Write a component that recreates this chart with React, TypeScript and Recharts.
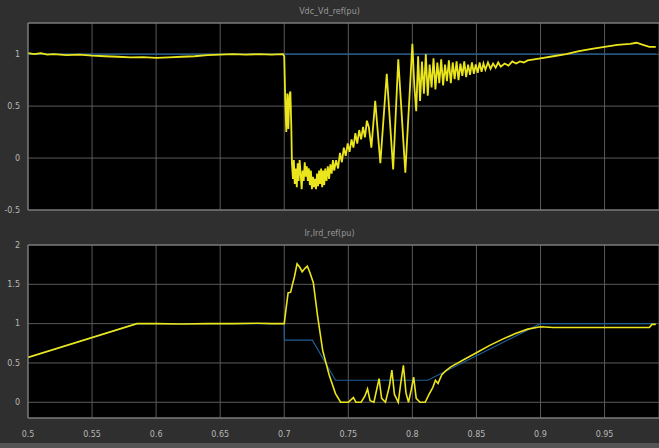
import { CartesianGrid, Line, LineChart, ReferenceLine, XAxis, YAxis } from "recharts";

// shared time axis (s)
const timeTicks = [0.5, 0.55, 0.6, 0.65, 0.7, 0.75, 0.8, 0.85, 0.9, 0.95];
const timeLabels = ["0.5", "0.55", "0.6", "0.65", "0.7", "0.75", "0.8", "0.85", "0.9", "0.95"];

// upper scope: Vdc_Vd_ref(pu)
const vdcTicks = [-0.5, 0, 0.5, 1];
const vdcRefTime = [0.5, 0.99];
const vdcRefValue = [1, 1];
const vdcTime = [
  0.5, 0.505, 0.51, 0.515, 0.52, 0.53, 0.54, 0.55, 0.56, 0.57, 0.58, 0.59, 0.6, 0.61, 0.62, 0.63,
  0.64, 0.65, 0.66, 0.67, 0.68, 0.69, 0.699,
  0.7, 0.7008, 0.7016, 0.7024, 0.7032, 0.704, 0.7048, 0.7055, 0.706, 0.7068, 0.7075, 0.7082,
  0.709, 0.7098, 0.7105, 0.7112, 0.712, 0.7128, 0.7136, 0.7144, 0.7152, 0.716, 0.7168, 0.7176,
  0.7184, 0.7192, 0.72, 0.7208, 0.7216, 0.7224, 0.7232, 0.724, 0.7248, 0.7256, 0.7264, 0.7272,
  0.728, 0.7288, 0.7296, 0.7304, 0.7312, 0.732, 0.733, 0.734, 0.735, 0.736, 0.737, 0.738,
  0.739, 0.7405, 0.742, 0.7435, 0.745, 0.7465, 0.748, 0.7495, 0.751, 0.7525, 0.754, 0.7555,
  0.757, 0.7585, 0.76, 0.7615, 0.763, 0.7645, 0.766, 0.768,
  0.771, 0.775, 0.78, 0.785, 0.789, 0.7945, 0.8,
  0.8015, 0.803, 0.8045, 0.806, 0.8075, 0.809, 0.8105, 0.812, 0.8135, 0.815,
  0.8165, 0.818, 0.8195, 0.821, 0.8225, 0.824, 0.8255, 0.827, 0.8285, 0.83,
  0.8315, 0.833, 0.8345, 0.836, 0.8375, 0.839, 0.8405, 0.842, 0.8435, 0.845,
  0.8465, 0.848, 0.8495, 0.851, 0.8525, 0.854, 0.8555, 0.857, 0.859, 0.861,
  0.863, 0.865, 0.867, 0.869, 0.872, 0.875, 0.878, 0.881, 0.884, 0.887,
  0.89, 0.895, 0.9, 0.91, 0.92, 0.93, 0.94, 0.95, 0.96, 0.97, 0.975, 0.98, 0.985, 0.99,
];
const vdcValue = [
  1.01, 1.0, 1.01, 0.995, 1.0, 0.99, 0.995, 0.985, 0.98, 0.975, 0.97, 0.972, 0.965, 0.97, 0.975, 0.98,
  0.99, 0.995, 1.0, 0.995, 1.0, 0.995, 1.0,
  0.98, 0.55, 0.25, 0.62, 0.28, 0.6, 0.64, 0.3, -0.05, -0.2, -0.02, -0.25,
  -0.1, -0.28, -0.05, -0.22, -0.02, -0.15, -0.3, -0.12, -0.22, -0.04, -0.18, -0.08,
  -0.22, -0.1, -0.26, -0.12, -0.3, -0.18, -0.28, -0.2, -0.3, -0.15, -0.27, -0.12,
  -0.25, -0.1, -0.28, -0.12, -0.26, -0.1, -0.22, -0.08, -0.2, -0.06, -0.15, -0.02,
  -0.12, -0.02, -0.1, 0.05, -0.04, 0.1, 0.02, 0.14, 0.06, 0.18, 0.1, 0.24,
  0.14, 0.27, 0.18, 0.3, 0.2, 0.36, 0.3, 0.1,
  0.55, -0.05, 0.81, -0.11, 0.95, -0.14, 1.1,
  0.7, 0.45, 0.98, 0.55, 0.93, 0.62, 1.0, 0.6, 0.9, 0.68,
  0.96, 0.66, 0.92, 0.72, 0.95, 0.7, 0.9, 0.74, 0.94, 0.72,
  0.92, 0.76, 0.93, 0.75, 0.91, 0.79, 0.93, 0.78, 0.9, 0.8,
  0.92, 0.81, 0.9, 0.82, 0.92, 0.83, 0.91, 0.85, 0.92, 0.86,
  0.91, 0.87, 0.92, 0.88, 0.91, 0.89, 0.93, 0.91, 0.93, 0.92,
  0.94, 0.95, 0.96, 0.98, 1.0, 1.03, 1.05, 1.07, 1.09, 1.1, 1.11, 1.09, 1.07, 1.07,
];

// lower scope: Ir,Ird_ref(pu)
const irTicks = [0, 0.5, 1, 1.5, 2];
const irRefTime = [0.5, 0.585, 0.7, 0.7001, 0.722, 0.74, 0.812, 0.9, 0.99];
const irRefValue = [0.57, 1.0, 1.0, 0.79, 0.79, 0.28, 0.28, 1.0, 1.0];
const irTime = [
  0.5, 0.585, 0.6, 0.62, 0.64, 0.66, 0.68, 0.69, 0.7,
  0.7015, 0.703, 0.705, 0.706, 0.708, 0.71, 0.712, 0.714, 0.716, 0.718, 0.72, 0.7227, 0.726,
  0.73, 0.735, 0.74, 0.744, 0.75, 0.752, 0.754, 0.756, 0.76, 0.763, 0.765, 0.767, 0.77,
  0.772, 0.774, 0.776, 0.779, 0.782, 0.784, 0.786, 0.789, 0.791, 0.793, 0.795, 0.797, 0.799,
  0.801, 0.803, 0.806, 0.81, 0.813, 0.816, 0.818, 0.82, 0.823, 0.826, 0.83, 0.84, 0.85,
  0.86, 0.87, 0.88, 0.89, 0.9, 0.91, 0.95, 0.985, 0.987, 0.99,
];
const irValue = [
  0.57, 1.0, 1.0, 0.995, 1.0, 1.0, 1.005, 1.0, 1.0,
  1.2, 1.39, 1.4, 1.47, 1.6, 1.76, 1.72, 1.66, 1.7, 1.73, 1.65, 1.52, 1.1,
  0.66, 0.35, 0.11, 0.0, 0.0, 0.03, 0.06, 0.0, 0.0, 0.08, 0.17, 0.02, 0.0,
  0.15, 0.3, 0.05, 0.0, 0.2, 0.41, 0.1, 0.0, 0.25, 0.47, 0.12, 0.0, 0.15,
  0.32, 0.05, 0.0, 0.0, 0.1, 0.19, 0.28, 0.24, 0.35, 0.4, 0.45, 0.54, 0.63,
  0.72, 0.8, 0.87, 0.93, 0.96, 0.95, 0.95, 0.95, 0.99, 0.99,
];

const toPoints = (t: number[], v: number[]) => t.map((x, i) => ({ t: x, v: v[i] }));

const BG = "#2f2f2f";
const GRID = "#5a5a5a";
const FRAME = "#8a8a8a";
const TEXT = "#b8b8b8";
const YELLOW = "#ebe51c";
const BLUE = "#1f5f96";
const X_DOMAIN: [number, number] = [0.5, 0.9925];

const tickStyle = { fill: TEXT, fontSize: 8, fontFamily: "DejaVu Sans" };

function Title({ text, top }: { text: string; top: number }) {
  return (
    <div
      style={{
        position: "absolute",
        top,
        left: 0,
        width: 659,
        textAlign: "center",
        color: "#9a9a9a",
        fontSize: 8,
        fontFamily: "DejaVu Sans",
      }}
    >
      {text}
    </div>
  );
}

export default function App() {
  return (
    <div
      style={{
        position: "absolute",
        left: 0,
        top: 0,
        width: 659,
        height: 448,
        background: BG,
        overflow: "hidden",
      }}
    >
      <Title text="Vdc_Vd_ref(pu)" top={7} />
      <div style={{ position: "absolute", left: 0, top: 0 }}>
        <LineChart width={659} height={240} margin={{ top: 23, right: 0, bottom: 30, left: 0 }}>
          <CartesianGrid stroke={GRID} fill="#000" />
          <XAxis
            dataKey="t"
            type="number"
            domain={X_DOMAIN}
            ticks={timeTicks}
            allowDataOverflow
            hide
          />
          <YAxis
            type="number"
            domain={[-0.5, 1.3]}
            ticks={vdcTicks}
            width={28}
            tick={tickStyle}
            tickLine={false}
            axisLine={{ stroke: FRAME }}
            allowDataOverflow
          />
          <ReferenceLine y={1.3} stroke={FRAME} />
          <ReferenceLine y={-0.5} stroke={FRAME} />
          <Line
            data={toPoints(vdcRefTime, vdcRefValue)}
            dataKey="v"
            stroke={BLUE}
            strokeWidth={1.2}
            dot={false}
            isAnimationActive={false}
          />
          <Line
            data={toPoints(vdcTime, vdcValue)}
            dataKey="v"
            stroke={YELLOW}
            strokeWidth={1.8}
            dot={false}
            isAnimationActive={false}
          />
        </LineChart>
      </div>

      <Title text="Ir,Ird_ref(pu)" top={229} />
      <div style={{ position: "absolute", left: 0, top: 225 }}>
        <LineChart width={659} height={218} margin={{ top: 20, right: 0, bottom: 5, left: 0 }}>
          <CartesianGrid stroke={GRID} fill="#000" />
          <XAxis
            dataKey="t"
            type="number"
            domain={X_DOMAIN}
            ticks={timeTicks}
            tickFormatter={(value) => timeLabels[timeTicks.indexOf(value)] ?? String(value)}
            height={20}
            tickMargin={7}
            tick={tickStyle}
            tickLine={false}
            axisLine={{ stroke: FRAME }}
            allowDataOverflow
          />
          <YAxis
            type="number"
            domain={[-0.2, 2]}
            ticks={irTicks}
            width={28}
            tick={tickStyle}
            tickLine={false}
            axisLine={{ stroke: FRAME }}
            allowDataOverflow
          />
          <ReferenceLine y={2} stroke={FRAME} />
          <Line
            data={toPoints(irRefTime, irRefValue)}
            dataKey="v"
            stroke={BLUE}
            strokeWidth={1.2}
            dot={false}
            isAnimationActive={false}
          />
          <Line
            data={toPoints(irTime, irValue)}
            dataKey="v"
            stroke={YELLOW}
            strokeWidth={1.6}
            dot={false}
            isAnimationActive={false}
          />
        </LineChart>
      </div>
      <div style={{ position: "absolute", left: 0, top: 443, width: 659, height: 5, background: "#555" }} />
    </div>
  );
}
